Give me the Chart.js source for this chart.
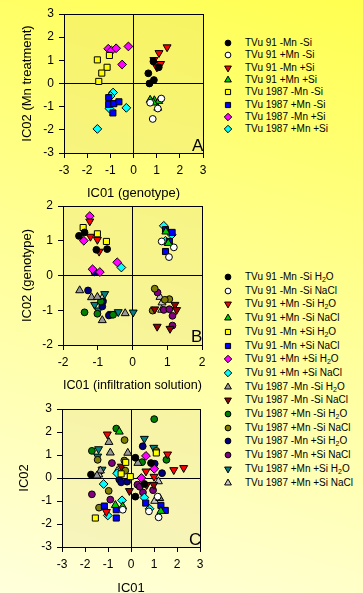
<!DOCTYPE html>
<html>
<head>
<meta charset="utf-8">
<script src="https://cdn.jsdelivr.net/npm/chart.js@4.4.1/dist/chart.umd.min.js"></script>
<style>
html, body { margin: 0; padding: 0; }
body {
    width: 363px; height: 593px; overflow: hidden; position: relative;
    background: linear-gradient(195deg, #ffff50 0%, #ffff8c 40%, #ffffdc 100%);
    font-family: "Liberation Sans", Arial, sans-serif;
}
.chart { position: absolute; }
.row { position: absolute; left: 222px; height: 12px; line-height: 12px; white-space: nowrap; font-size: 10px; color: #000; }
.row canvas { position: absolute; left: 0; top: 0; }
.row span { position: absolute; left: 23px; top: 0; }
.tag { position: absolute; font-size: 17px; line-height: 17px; color: #000; }
sub { font-size: 7px; vertical-align: -2px; line-height: 0; }
</style>
</head>
<body>
<canvas class="chart" id="chartA" width="215" height="210" style="left:0;top:0"></canvas>
<canvas class="chart" id="chartB" width="215" height="210" style="left:0;top:190px"></canvas>
<canvas class="chart" id="chartC" width="215" height="210" style="left:0;top:395px"></canvas>
<div class="tag" style="left:192px;top:137px">A</div>
<div class="tag" style="left:191px;top:328px">B</div>
<div class="tag" style="left:189px;top:531px">C</div>
<script>
var fontFamily = '"Liberation Sans", Arial, sans-serif'

// ---- panel A : IC01 (genotype) vs IC02 (Mn treatment)
const labelsA = ["TVu 91 -Mn -Si", "TVu 91 +Mn -Si", "TVu 91 -Mn +Si", "TVu 91 +Mn +Si",
    "TVu 1987 -Mn -Si", "TVu 1987 +Mn -Si", "TVu 1987 -Mn +Si", "TVu 1987 +Mn +Si"]
const A_91_noMn_noSi = [[0.64,0.44],[0.69,0.0],[0.88,0.15],[0.86,0.95],[1.09,0.7]]
const A_91_Mn_noSi = [[1.2,-0.65],[0.83,-1.53],[0.72,-0.83],[1.05,-1.08]]
const A_91_noMn_Si = [[1.45,1.57],[1.1,1.32],[0.88,1.02],[1.17,0.85],[1.01,0.7]]
const A_91_Mn_Si = [[0.72,-0.71],[0.9,-0.73],[1.09,-0.76],[1.05,-1.05],[0.86,-0.83]]
const A_1987_noMn_noSi = [[-1.56,1.02],[-1.04,1.21],[-1.14,0.7],[-1.37,0.45],[-1.5,0.09]]
const A_1987_Mn_noSi = [[-1.07,-0.61],[-1.07,-0.9],[-0.85,-0.87],[-0.63,-0.79],[-0.89,-1.27]]
const A_1987_noMn_Si = [[-1.09,1.5],[-0.95,1.42],[-0.75,1.52],[-0.22,1.6],[-0.49,0.82]]
const A_1987_Mn_Si = [[-0.88,-0.39],[-0.99,-0.54],[-1.04,-1.08],[-0.31,-1.05],[-1.56,-1.96]]

// ---- panel B and C : infiltration solution
const labelsB = ["TVu 91 -Mn -Si H2O", "TVu 91 -Mn -Si NaCl", "TVu 91 +Mn -Si H2O", "TVu 91 +Mn -Si NaCl",
    "TVu 91 -Mn +Si H2O", "TVu 91 -Mn +Si NaCl", "TVu 91 +Mn +Si H2O", "TVu 91 +Mn +Si NaCl",
    "TVu 1987 -Mn -Si H2O", "TVu 1987 -Mn -Si NaCl", "TVu 1987 +Mn -Si H2O", "TVu 1987 +Mn -Si NaCl",
    "TVu 1987 -Mn +Si H2O", "TVu 1987 -Mn +Si NaCl", "TVu 1987 +Mn +Si H2O", "TVu 1987 +Mn +Si NaCl"]

const B_91_noMn_noSi_H2O = [[-1.54,1.14],[-1.38,1.24],[-1.04,0.74],[-0.73,0.76]]
const B_91_noMn_noSi_NaCl = [[0.84,0.98],[1.19,0.81],[1.05,0.53]]
const B_91_Mn_noSi_H2O = [[-1.23,1.56],[-1.21,1.12],[-1.01,1.03],[-0.96,0.69]]
const B_91_Mn_noSi_NaCl = [[0.96,1.26],[1.03,0.93]]
const B_91_noMn_Si_H2O = [[-1.42,1.38],[-1.01,1.2],[-0.75,0.98]]
const B_91_noMn_Si_NaCl = [[0.95,1.32],[1.14,1.24],[1.06,0.98],[0.95,0.69]]
const B_91_Mn_Si_H2O = [[-1.23,1.71],[-1.4,1.0],[-0.44,0.38],[-1.15,0.18],[-0.94,0.1]]
const B_91_Mn_Si_NaCl = [[-0.32,0.23],[0.9,1.43],[1.13,1.17],[0.95,1.0]]
const B_1987_noMn_noSi_H2O = [[-1.52,-0.43],[-1.18,-0.63],[-1.01,-0.62],[-0.87,-1.29],[-0.21,-1.09]]
const B_1987_noMn_noSi_NaCl = [[0.64,-0.97],[0.71,-1.47],[1.08,-1.53],[1.22,-0.84],[1.27,-0.99]]
const B_1987_Mn_noSi_H2O = [[-1.38,-1.06],[-1.01,-1.1],[-0.56,-1.13],[-0.91,-0.75]]
const B_1987_Mn_noSi_NaCl = [[0.64,-0.38],[0.58,-1.01],[1.06,-0.68],[0.93,-0.7]]
const B_1987_noMn_Si_H2O = [[-1.09,0.09],[-1.28,-0.43],[-0.85,-0.75],[-0.87,-0.89],[-0.68,-1.15]]
const B_1987_noMn_Si_NaCl = [[0.72,-0.49],[0.9,-0.99],[1.06,-0.97],[1.15,-1.16],[1.15,-1.44]]
const B_1987_Mn_Si_H2O = [[-0.8,-0.53],[-1.09,-0.84],[-0.98,-1.0],[-0.41,-1.05],[0.02,-1.06],[-0.6,-1.1]]
const B_1987_Mn_Si_NaCl = [[0.79,-0.62],[0.84,-0.99],[0.85,-0.78],[-0.87,-0.65]]

const C_91_noMn_noSi_H2O = [[-1.74,0.15],[0.19,0.88],[0.87,0.65],[0.19,-0.81],[0.58,-0.26]]
const C_91_noMn_noSi_NaCl = [[-0.36,-1.38],[1.16,-0.81],[1.2,-1.71],[0.78,-1.45]]
const C_91_Mn_noSi_H2O = [[-1.03,1.9],[1.59,1.03],[1.86,0.35],[2.29,0.44],[0.65,0.29],[1.0,0.06],[-1.07,-1.47]]
const C_91_Mn_noSi_NaCl = [[-0.51,2.01],[-0.68,-1.18],[-0.36,-1.24],[1.25,-0.88],[1.3,-1.44]]
const C_91_noMn_Si_H2O = [[-1.55,-1.74],[-0.23,0.68],[-0.03,0.06],[-0.43,0.18],[1.1,1.09]]
const C_91_noMn_Si_NaCl = [[-1.16,-1.22],[-0.64,-1.38],[-0.64,-1.74],[0.64,-1.09],[1.3,-1.19],[1.49,-1.41]]
const C_91_Mn_Si_H2O = [[0.65,0.96],[0.45,0.0],[1.01,0.4]]
const C_91_Mn_Si_NaCl = [[-1.19,-0.26],[-1.01,-1.63],[-0.39,-0.97],[0.58,-0.85],[0.81,-1.34],[-0.6,0.2]]
const C_1987_noMn_noSi_H2O = [[-0.96,1.56],[-0.9,1.1],[-0.14,1.09],[-1.33,0.32],[-1.48,0.1],[0.3,0.65]]
const C_1987_noMn_noSi_NaCl = [[-0.07,-0.56],[0.99,-0.29],[-0.42,0.5],[0.68,-0.3]]
const C_1987_Mn_noSi_H2O = [[-0.64,2.15],[1.01,2.56],[-1.7,1.18],[0.48,0.69],[1.54,0.79]]
const C_1987_Mn_noSi_NaCl = [[-0.28,1.65],[-1.45,0.79],[-0.29,0.76],[-0.25,0.32],[-0.97,-0.56],[-1.39,-1.29],[1.1,1.18]]
const C_1987_noMn_Si_H2O = [[0.51,1.38],[1.03,0.62],[1.35,0.21],[-0.51,-0.07],[-0.43,-0.19],[-0.17,-0.16]]
const C_1987_noMn_Si_NaCl = [[-1.7,-0.71],[-0.83,0.65],[-0.9,-0.94],[0.28,-0.29],[0.52,-0.63],[0.96,-0.53],[0.38,-0.38]]
const C_1987_Mn_Si_H2O = [[-1.41,1.26],[-1.45,0.94],[-1.26,0.37],[0.58,1.71],[0.99,1.32]]
const C_1987_Mn_Si_NaCl = [[1.19,-0.15],[1.03,-1.0],[-0.6,0.3],[-1.4,0.15]]

// marker look, same order as the legends
const styles = [
    {shape: 'circle', fill: '#000000'},
    {shape: 'circle', fill: '#ffffff'},
    {shape: 'triangle', rot: 180, fill: '#ff0000'},
    {shape: 'triangle', fill: '#00cc00'},
    {shape: 'rect', fill: '#ffff00'},
    {shape: 'rect', fill: '#0000ff'},
    {shape: 'rectRot', fill: '#ff00ff'},
    {shape: 'rectRot', fill: '#00ffff'},
    {shape: 'triangle', fill: '#999999'},
    {shape: 'triangle', rot: 180, fill: '#990000'},
    {shape: 'circle', fill: '#008000'},
    {shape: 'circle', fill: '#808000'},
    {shape: 'circle', fill: '#000080'},
    {shape: 'circle', fill: '#800080'},
    {shape: 'triangle', rot: 180, fill: '#008080'},
    {shape: 'triangle', fill: '#c8c8c8'},
]
const sizes = {circle: 3.4, rect: 4.3, rectRot: 4.4, triangle: 4.6}

function makeSets(series, labels) {
    return series.map((pts, i) => ({
        label: labels[i],
        data: pts.map(p => ({x: p[0], y: p[1]})),
        pointStyle: styles[i].shape,
        rotation: styles[i].rot || 0,
        pointRadius: sizes[styles[i].shape],
        pointHoverRadius: sizes[styles[i].shape],
        pointBackgroundColor: styles[i].fill,
        pointBorderColor: '#000',
        pointBorderWidth: 1,
        showLine: false,
    }))
}

function axis(min, max, title, fit, horizontal) {
    return {
        type: 'linear', min: min, max: max,
        ticks: {stepSize: 1, color: '#000', font: {family: fontFamily, size: 12}, padding: 5},
        grid: {
            color: c => (c.tick && (c.tick.value === 0 || c.tick.value === min || c.tick.value === max)) ? '#000' : 'rgba(0,0,0,0)',
            tickColor: '#000', tickLength: 5, lineWidth: 1,
        },
        border: {color: '#000'},
        title: {display: true, text: title, color: '#000', font: {family: fontFamily, size: 13}, padding: 0},
        afterFit: s => { if (horizontal) s.height = fit; else s.width = fit },
    }
}

const plotFill = {
    id: 'plotFill',
    beforeDraw(chart) {
        const a = chart.chartArea, ctx = chart.ctx
        ctx.save()
        ctx.fillStyle = 'rgba(215, 200, 120, 0.2)'
        ctx.fillRect(a.left, a.top, a.right - a.left, a.bottom - a.top)
        ctx.restore()
    }
}

function makeChart(id, sets, lim, xTitle, yTitle, pad, xFit, yFit) {
    return new Chart(document.getElementById(id), {
        type: 'scatter',
        data: {datasets: sets},
        options: {
            animation: false,
            responsive: false,
            devicePixelRatio: 1,
            layout: {padding: pad},
            scales: {
                x: axis(-lim, lim, xTitle, xFit, true),
                y: axis(-lim, lim, yTitle, yFit, false),
            },
            plugins: {legend: {display: false}, tooltip: {enabled: false}},
        },
        plugins: [plotFill],
    })
}

const chartA = makeChart('chartA',
    makeSets([A_91_noMn_noSi, A_91_Mn_noSi, A_91_noMn_Si, A_91_Mn_Si,
        A_1987_noMn_noSi, A_1987_Mn_noSi, A_1987_noMn_Si, A_1987_Mn_Si], labelsA),
    3, 'IC01 (genotype)', 'IC02 (Mn treatment)',
    {left: 20, right: 12, top: 14, bottom: 9}, 48, 44)

const chartB = makeChart('chartB',
    makeSets([B_91_noMn_noSi_H2O, B_91_noMn_noSi_NaCl, B_91_Mn_noSi_H2O, B_91_Mn_noSi_NaCl,
        B_91_noMn_Si_H2O, B_91_noMn_Si_NaCl, B_91_Mn_Si_H2O, B_91_Mn_Si_NaCl,
        B_1987_noMn_noSi_H2O, B_1987_noMn_noSi_NaCl, B_1987_Mn_noSi_H2O, B_1987_Mn_noSi_NaCl,
        B_1987_noMn_Si_H2O, B_1987_noMn_Si_NaCl, B_1987_Mn_Si_H2O, B_1987_Mn_Si_NaCl], labelsB),
    2, 'IC01 (infiltration solution)', 'IC02 (genotype)',
    {left: 20, right: 13, top: 16, bottom: 7}, 48, 43)

const chartC = makeChart('chartC',
    makeSets([C_91_noMn_noSi_H2O, C_91_noMn_noSi_NaCl, C_91_Mn_noSi_H2O, C_91_Mn_noSi_NaCl,
        C_91_noMn_Si_H2O, C_91_noMn_Si_NaCl, C_91_Mn_Si_H2O, C_91_Mn_Si_NaCl,
        C_1987_noMn_noSi_H2O, C_1987_noMn_noSi_NaCl, C_1987_Mn_noSi_H2O, C_1987_Mn_noSi_NaCl,
        C_1987_noMn_Si_H2O, C_1987_noMn_Si_NaCl, C_1987_Mn_Si_H2O, C_1987_Mn_Si_NaCl], labelsB),
    3, 'IC01', 'IC02',
    {left: 17, right: 15, top: 14, bottom: 9}, 49, 45)

// html legends, markers drawn with the chart.js point helper
function buildLegend(labels, top, step) {
    labels.forEach((lab, i) => {
        const row = document.createElement('div')
        row.className = 'row'
        row.style.top = (top + i * step - 6) + 'px'
        const c = document.createElement('canvas')
        c.width = 12; c.height = 12
        const ctx = c.getContext('2d')
        ctx.fillStyle = styles[i].fill
        ctx.strokeStyle = '#000'
        ctx.lineWidth = 1
        Chart.helpers.drawPoint(ctx, {
            pointStyle: styles[i].shape,
            rotation: styles[i].rot || 0,
            radius: sizes[styles[i].shape] * 0.85,
            borderWidth: 1,
        }, 6, 6)
        const s = document.createElement('span')
        s.innerHTML = lab.replace('H2O', 'H<sub>2</sub>O')
        row.appendChild(c)
        row.appendChild(s)
        document.body.appendChild(row)
    })
}
buildLegend(labelsA, 43, 12.3)
buildLegend(labelsB, 277, 13.7)
</script>
</body>
</html>
